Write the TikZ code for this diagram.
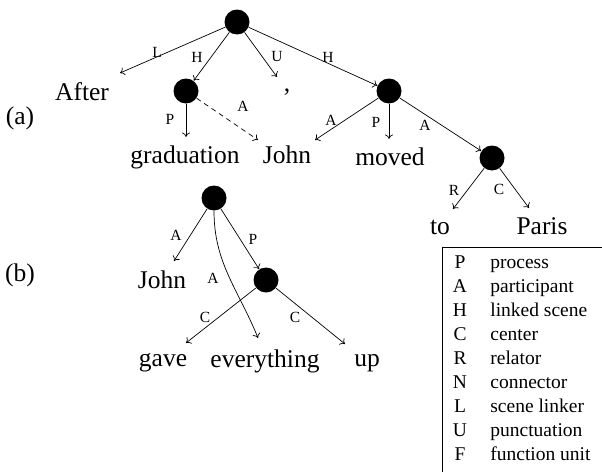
\documentclass[tikz,border=0pt]{standalone}
\usepackage{fontspec}
\setmainfont{Liberation Serif}
\usetikzlibrary{arrows.meta,positioning}

\begin{document}
\begin{tikzpicture}[x=1pt,y=-1pt,line width=0.7pt,
    >={To[length=4.5pt,width=8pt]},
    unit/.style={circle,fill=black,minimum size=25pt,inner sep=0pt},
    word/.style={font=\fontsize{25.5}{30}\selectfont,inner sep=0pt,anchor=base},
    lab/.style={font=\fontsize{15.5}{18}\selectfont,inner sep=0pt},
    legend/.style={font=\fontsize{19.5}{22}\selectfont,inner sep=0pt}]
%      \draw[help lines,step=50] (0,0) grid (602,471);
      \useasboundingbox (0,0) rectangle (602,471);

      % (a)
      \node[word] (tag_a) at (20,124) {(a)};

      \node[unit] (ra) at (237,22) {};
      \node[unit] (ga) at (186,91) {};
      \node[unit] (ma) at (389,91) {};
      \node[unit] (pa) at (492,158) {};

      \node[word] (after)  at (82,100)  {After};
      \node[word] (comma)  at (287,91)  {,};
      \node[word] (grad)   at (185,163) {graduation};
      \node[word] (john_a) at (287,163) {John};
      \node[word] (moved)  at (390,165) {moved};
      \node[word] (to)     at (440,234) {to};
      \node[word] (paris)  at (542,234) {Paris};

      \coordinate (in_after) at (120,73);
      \coordinate (in_comma) at (277,77);
      \coordinate (in_grad)  at (186,137);
      \coordinate (in_john1) at (258,140);
      \coordinate (in_john2) at (315,140);
      \coordinate (in_moved) at (389,139);
      \coordinate (in_to)    at (453,209);
      \coordinate (in_paris) at (529,208);

      \draw[->] (ra) -- (in_after) node[lab] at (157,52) {L};
      \draw[->] (ra) -- (ga)       node[lab] at (197,57) {H};
      \draw[->] (ra) -- (in_comma) node[lab] at (277,57) {U};
      \draw[->] (ra) -- (ma)       node[lab] at (328,57) {H};
      \draw[->] (ga) -- (in_grad)  node[lab] at (170,119) {P};
      \draw[->,dash pattern=on 5pt off 4pt] (ga) -- (in_john1) node[lab] at (243,106) {A};
      \draw[->] (ma) -- (in_john2) node[lab] at (331,120) {A};
      \draw[->] (ma) -- (in_moved) node[lab] at (376,122) {P};
      \draw[->] (ma) -- (pa)       node[lab] at (425,125) {A};
      \draw[->] (pa) -- (in_to)    node[lab] at (454,190) {R};
      \draw[->] (pa) -- (in_paris) node[lab] at (499,189) {C};

      % (b)
      \node[word] (tag_b) at (20,281) {(b)};

      \node[unit] (rb) at (214,198) {};
      \node[unit] (qb) at (266,280) {};

      \node[word] (john_b) at (162,288) {John};
      \node[word] (gave)   at (163,366) {gave};
      \node[word] (every)  at (265,367) {everything};
      \node[word] (up)     at (367,366) {up};

      \coordinate (in_john3) at (174,261);
      \coordinate (in_every) at (258,338);
      \coordinate (in_gave)  at (186,343);
      \coordinate (in_up)    at (345,344);

      \draw[->] (rb) -- (in_john3) node[lab] at (176,235) {A};
      \draw[->] (rb) -- (qb)       node[lab] at (253,239) {P};
      \draw[->] (rb) to[out=-90,in=112] (in_every) node[lab] at (213,278) {A};
      \draw[->] (qb) -- (in_gave)  node[lab] at (205,317) {C};
      \draw[->] (qb) -- (in_up)    node[lab] at (295,317) {C};

      % legend
      \draw (442,247) rectangle (612,481);
      \foreach \k/\d [count=\i from 0] in {P/process,A/participant,H/linked scene,
          C/center,R/relator,N/connector,L/scene linker,U/punctuation,F/function unit}
      {
        \node[legend,anchor=base] (key\i) at (460,268+24.1*\i) {\k};
        \node[legend,anchor=base west] (desc\i) at (490,268+24.1*\i) {\d};
      }
\end{tikzpicture}
\end{document}
